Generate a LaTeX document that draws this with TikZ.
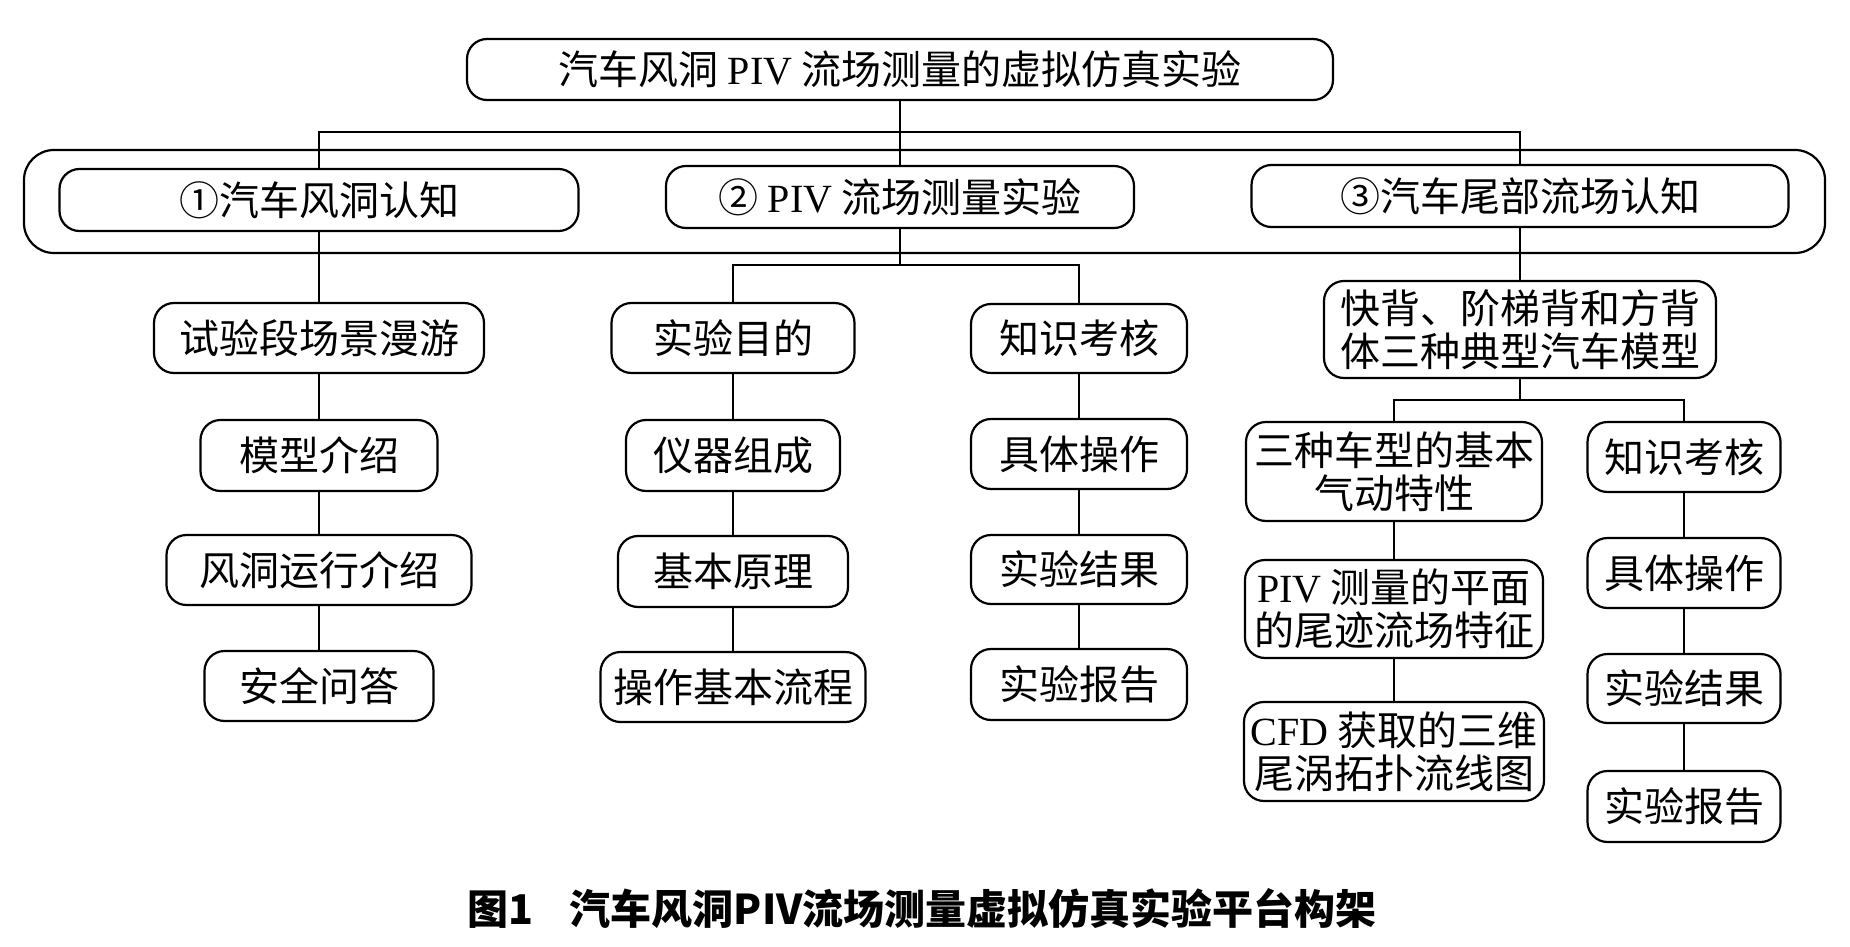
\documentclass[tikz,border=0pt]{standalone}
\usepackage{fontspec}
\setmainfont{Liberation Serif}
\newfontfamily\cjk{Noto Sans CJK SC}
\newfontfamily\lat{Liberation Serif}
\begin{document}
\begin{tikzpicture}[x=1pt,y=-1pt,
  box/.style={draw, line width=2.2pt, rounded corners=20pt, inner sep=0pt, align=center,
    font=\cjk\fontsize{40}{43}\selectfont},
  conn/.style={line width=1.6pt}]
\useasboundingbox[fill=white] (0,0) rectangle (1850,947);

% top
\node[box, minimum width=866pt, minimum height=61pt] (top) at (900,69.5) {汽车风洞 {\lat PIV} 流场测量的虚拟仿真实验};

% outer frame
\node[draw, line width=2.2pt, rounded corners=30pt, minimum width=1801pt, minimum height=103pt, inner sep=0pt] (outer) at (924.5,201.5) {};

% level 1
\node[box, minimum width=519pt, minimum height=62pt] (n1) at (319,200) {①汽车风洞认知};
\node[box, minimum width=468pt, minimum height=62pt] (n2) at (900,197) {② {\lat PIV} 流场测量实验};
\node[box, minimum width=537pt, minimum height=62pt] (n3) at (1520,196) {③汽车尾部流场认知};

% column A
\node[box, minimum width=330pt, minimum height=70pt] (a1) at (319,338) {试验段场景漫游};
\node[box, minimum width=237pt, minimum height=71pt] (a2) at (319,455.5) {模型介绍};
\node[box, minimum width=305pt, minimum height=70pt] (a3) at (319,570) {风洞运行介绍};
\node[box, minimum width=229pt, minimum height=70pt] (a4) at (319,686) {安全问答};

% column B
\node[box, minimum width=243pt, minimum height=70pt] (b1) at (733,338) {实验目的};
\node[box, minimum width=214pt, minimum height=71pt] (b2) at (733,455.5) {仪器组成};
\node[box, minimum width=230pt, minimum height=71pt] (b3) at (733,571.5) {基本原理};
\node[box, minimum width=265pt, minimum height=70pt] (b4) at (733,687) {操作基本流程};

% column C
\node[box, minimum width=216pt, minimum height=69pt] (c1) at (1079,338.5) {知识考核};
\node[box, minimum width=216pt, minimum height=70pt] (c2) at (1079,454) {具体操作};
\node[box, minimum width=216pt, minimum height=69pt] (c3) at (1079,569.5) {实验结果};
\node[box, minimum width=216pt, minimum height=71pt] (c4) at (1079,684.5) {实验报告};

% column D
\node[box, minimum width=392pt, minimum height=97pt] (d0) at (1520,329.5) {快背、阶梯背和方背\\体三种典型汽车模型};
\node[box, minimum width=296pt, minimum height=99pt] (d1) at (1394,471.5) {三种车型的基本\\气动特性};
\node[box, minimum width=298pt, minimum height=98pt] (d2) at (1394,609) {{\lat PIV} 测量的平面\\的尾迹流场特征};
\node[box, minimum width=300pt, minimum height=99pt] (d3) at (1394,751.5) {{\lat CFD} 获取的三维\\尾涡拓扑流线图};

% column E
\node[box, minimum width=193pt, minimum height=70pt] (e1) at (1684,457) {知识考核};
\node[box, minimum width=193pt, minimum height=70pt] (e2) at (1684,573) {具体操作};
\node[box, minimum width=193pt, minimum height=69pt] (e3) at (1684,688.5) {实验结果};
\node[box, minimum width=193pt, minimum height=71pt] (e4) at (1684,806.5) {实验报告};

% caption
\node[font=\cjk\bfseries\fontsize{41}{41}\selectfont, inner sep=0pt] (cap) at (922,909) {图1\hspace{0.9em}汽车风洞PIV流场测量虚拟仿真实验平台构架};

% connectors
\coordinate (bus1) at (900,132);
\coordinate (bus2) at (900,265);
\coordinate (bus3) at (1520,400);
\draw[conn] (top.south) -- (bus1);
\draw[conn] (n1.north) |- (bus1) -| (n3.north);
\draw[conn] (bus1) -- (n2.north);

\draw[conn] (n1.south) -- (a1.north);
\draw[conn] (a1.south) -- (a2.north);
\draw[conn] (a2.south) -- (a3.north);
\draw[conn] (a3.south) -- (a4.north);

\draw[conn] (n2.south) -- (bus2);
\draw[conn] (b1.north) |- (bus2) -| (c1.north);
\draw[conn] (b1.south) -- (b2.north);
\draw[conn] (b2.south) -- (b3.north);
\draw[conn] (b3.south) -- (b4.north);
\draw[conn] (c1.south) -- (c2.north);
\draw[conn] (c2.south) -- (c3.north);
\draw[conn] (c3.south) -- (c4.north);

\draw[conn] (n3.south) -- (d0.north);
\draw[conn] (d0.south) -- (bus3);
\draw[conn] (d1.north) |- (bus3) -| (e1.north);
\draw[conn] (d1.south) -- (d2.north);
\draw[conn] (d2.south) -- (d3.north);
\draw[conn] (e1.south) -- (e2.north);
\draw[conn] (e2.south) -- (e3.north);
\draw[conn] (e3.south) -- (e4.north);
\end{tikzpicture}
\end{document}
